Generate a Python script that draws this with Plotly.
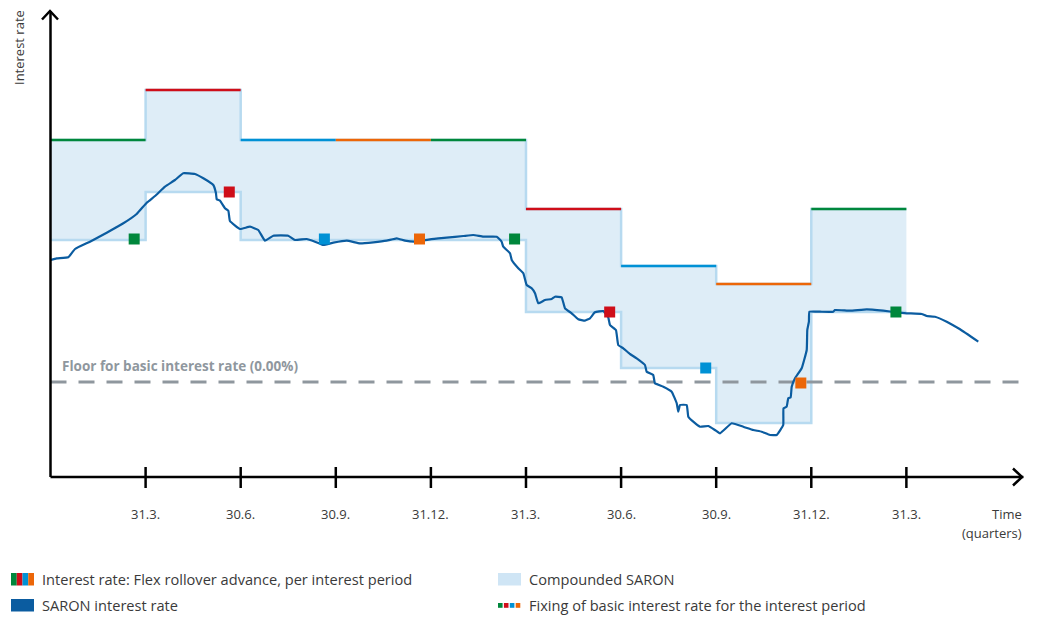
import plotly.graph_objects as go

# ---------------- data ----------------
quarter_ticks = [1, 2, 3, 4, 5, 6, 7, 8, 9]
tick_labels = ["31.3.", "30.6.", "30.9.", "31.12.", "31.3.", "30.6.", "30.9.", "31.12.", "31.3."]

period_start = [0, 1, 2, 3, 4, 5, 6, 7, 8]
period_end = [1, 2, 3, 4, 5, 6, 7, 8, 9]
flex_rate = [2.42, 2.92, 2.42, 2.42, 2.42, 1.73, 1.16, 0.98, 1.73]          # Flex rollover advance
compounded_saron = [1.42, 1.90, 1.42, 1.42, 1.42, 0.70, 0.14, -0.41, 0.70]  # lower edge of compounded SARON
period_colors = ["#00873c", "#cf0e19", "#0091d5", "#ec6608",
                 "#00873c", "#cf0e19", "#0091d5", "#ec6608", "#00873c"]

fixing_x = [0.88, 1.88, 2.88, 3.88, 4.88, 5.88, 6.89, 7.89, 8.89]
fixing_y = [1.43, 1.90, 1.43, 1.43, 1.43, 0.70, 0.14, -0.01, 0.70]

floor_rate = 0.0

saron_x = [0.0, 0.065, 0.187, 0.258, 0.415, 0.591, 0.766, 0.906, 1.012, 1.099,
           1.204, 1.309, 1.396, 1.519, 1.607, 1.712, 1.740, 1.748, 1.782, 1.835,
           1.870, 1.887, 1.993, 2.098, 2.185, 2.255, 2.343, 2.500, 2.571, 2.694,
           2.781, 2.869, 2.974, 3.115, 3.254, 3.394, 3.535, 3.640, 3.728, 3.833,
           3.991, 4.166, 4.341, 4.446, 4.551, 4.692, 4.744, 4.761, 4.832, 4.850,
           4.919, 4.972, 5.007, 5.060, 5.095, 5.129, 5.200, 5.270, 5.305, 5.375,
           5.410, 5.480, 5.550, 5.620, 5.673, 5.725, 5.813, 5.865, 5.883, 5.946,
           5.970, 6.023, 6.094, 6.164, 6.251, 6.269, 6.338, 6.356, 6.444, 6.532,
           6.585, 6.601, 6.619, 6.690, 6.707, 6.759, 6.830, 6.917, 6.987, 7.040,
           7.163, 7.285, 7.390, 7.478, 7.566, 7.636, 7.705, 7.708, 7.741, 7.758,
           7.783, 7.794, 7.829, 7.899, 7.952, 7.958, 7.975, 7.980, 8.091, 8.231,
           8.249, 8.407, 8.583, 8.757, 8.898, 9.003, 9.161, 9.213, 9.301, 9.424,
           9.564, 9.756]
saron_y = [1.220, 1.237, 1.247, 1.330, 1.403, 1.493, 1.587, 1.680, 1.793, 1.860,
           1.953, 2.020, 2.087, 2.080, 2.037, 1.970, 1.887, 1.827, 1.813, 1.737,
           1.713, 1.610, 1.530, 1.553, 1.520, 1.413, 1.463, 1.463, 1.420, 1.430,
           1.403, 1.370, 1.393, 1.413, 1.387, 1.397, 1.413, 1.437, 1.413, 1.403,
           1.427, 1.443, 1.460, 1.470, 1.453, 1.453, 1.403, 1.353, 1.287, 1.220,
           1.137, 1.087, 0.970, 0.937, 0.887, 0.787, 0.820, 0.830, 0.853, 0.847,
           0.737, 0.687, 0.627, 0.613, 0.637, 0.697, 0.710, 0.647, 0.570, 0.520,
           0.370, 0.337, 0.280, 0.237, 0.170, 0.103, 0.070, -0.013, -0.047, -0.097,
           -0.213, -0.297, -0.230, -0.230, -0.347, -0.397, -0.447, -0.440, -0.480, -0.513,
           -0.413, -0.447, -0.480, -0.497, -0.530, -0.530, -0.430, -0.263, -0.247, -0.163,
           -0.153, -0.047, 0.037, 0.137, 0.320, 0.520, 0.603, 0.703, 0.703, 0.703,
           0.720, 0.713, 0.727, 0.713, 0.697, 0.687, 0.680, 0.660, 0.653, 0.603,
           0.527, 0.403]

# ---------------- styling ----------------
W, H = 1038, 617
FONT = "Open Sans"
TEXT = "#3a3a3a"
FILL = "#deedf7"
OUTLINE = "#b7daf0"
SARON = "#0b5ca0"
FLOOR = "#8f979e"
X_RANGE = [-0.531, 10.384]
Y_RANGE = [-2.35, 3.82]
X_AXIS_Y = -0.95      # y position (data) of the time axis
Y_AXIS_TOP = 3.71
X_AXIS_END = 10.23


def px(x):
    return x / W


def py(y):
    return 1 - y / H


fig = go.Figure()

# compounded SARON band
band_x, band_top, band_bot_x, band_bot = [], [], [], []
for s, e, t, b in zip(period_start, period_end, flex_rate, compounded_saron):
    band_x += [s, e]
    band_top += [t, t]
    band_bot_x += [s, e]
    band_bot += [b, b]
fig.add_trace(go.Scatter(x=band_x + band_bot_x[::-1], y=band_top + band_bot[::-1],
                         fill="toself", fillcolor=FILL, mode="lines",
                         line=dict(width=0), hoverinfo="skip", showlegend=False))
# outline (steps)
fig.add_trace(go.Scatter(x=band_x, y=band_top, mode="lines",
                         line=dict(color=OUTLINE, width=2.5), hoverinfo="skip", showlegend=False))
fig.add_trace(go.Scatter(x=band_bot_x, y=band_bot, mode="lines",
                         line=dict(color=OUTLINE, width=2.5), hoverinfo="skip", showlegend=False))

# floor line
fig.add_trace(go.Scatter(x=[0, X_AXIS_END - 0.03], y=[floor_rate, floor_rate], mode="lines",
                         line=dict(color=FLOOR, width=3, dash="16px,12px"),
                         hoverinfo="skip", showlegend=False))

# flex rollover rate per period
for s, e, t, c in zip(period_start, period_end, flex_rate, period_colors):
    fig.add_trace(go.Scatter(x=[s, e], y=[t, t], mode="lines",
                             line=dict(color=c, width=2.5), hoverinfo="skip", showlegend=False))

# SARON line
fig.add_trace(go.Scatter(x=saron_x, y=saron_y, mode="lines",
                         line=dict(color=SARON, width=2.2, shape="spline", smoothing=0.3),
                         hoverinfo="skip", showlegend=False))

# fixings
fig.add_trace(go.Scatter(x=fixing_x, y=fixing_y, mode="markers",
                         marker=dict(symbol="square", size=11, color=period_colors,
                                     line=dict(width=0)),
                         hoverinfo="skip", showlegend=False))

shapes = []
# axes
shapes.append(dict(type="line", xref="x", yref="y", x0=0, x1=0, y0=X_AXIS_Y, y1=Y_AXIS_TOP,
                   line=dict(color="black", width=2.5)))
shapes.append(dict(type="line", xref="x", yref="y", x0=0, x1=X_AXIS_END, y0=X_AXIS_Y, y1=X_AXIS_Y,
                   line=dict(color="black", width=2.5)))
# arrow heads
shapes.append(dict(type="path", xref="paper", yref="paper",
                   path=f"M {px(42)} {py(19.5)} L {px(50)} {py(11)} L {px(58)} {py(19.5)}",
                   line=dict(color="black", width=2.5)))
shapes.append(dict(type="path", xref="paper", yref="paper",
                   path=f"M {px(1013)} {py(468.5)} L {px(1022)} {py(477)} L {px(1013)} {py(485.5)}",
                   line=dict(color="black", width=2.5)))
# ticks
for q in quarter_ticks:
    shapes.append(dict(type="line", xref="x", yref="paper", x0=q, x1=q, y0=py(467), y1=py(488),
                       line=dict(color="black", width=2.5)))

TICKFONT = dict(family=FONT, size=13, color=TEXT)
annotations = []
for q, lab in zip(quarter_ticks, tick_labels):
    annotations.append(dict(x=q, y=py(514), xref="x", yref="paper", text=lab, showarrow=False,
                            font=TICKFONT, xanchor="center", yanchor="middle"))
annotations.append(dict(x=px(1024), y=py(514), xref="paper", yref="paper", text="Time",
                        showarrow=False, font=TICKFONT, xanchor="right", yanchor="middle"))
annotations.append(dict(x=px(1024), y=py(533), xref="paper", yref="paper", text="(quarters)",
                        showarrow=False, font=TICKFONT, xanchor="right", yanchor="middle"))
annotations.append(dict(x=px(19), y=py(48), xref="paper", yref="paper", text="Interest rate",
                        textangle=-90, showarrow=False, font=TICKFONT,
                        xanchor="center", yanchor="middle"))
annotations.append(dict(x=0.1, y=floor_rate, xref="x", yref="y",
                        text="<b>Floor for basic interest rate (0.00%)</b>",
                        showarrow=False, font=dict(family=FONT, size=13.5, color=FLOOR),
                        xanchor="left", yanchor="bottom", yshift=5))

# legend
leg_colors = ["#00873c", "#cf0e19", "#0091d5", "#ec6608"]
for i, c in enumerate(leg_colors):
    shapes.append(dict(type="rect", xref="paper", yref="paper",
                       x0=px(11 + i * 5.75), x1=px(11 + (i + 1) * 5.75), y0=py(585.5), y1=py(573),
                       fillcolor=c, line=dict(width=0)))
shapes.append(dict(type="rect", xref="paper", yref="paper", x0=px(11), x1=px(34),
                   y0=py(611.5), y1=py(599), fillcolor=SARON, line=dict(width=0)))
shapes.append(dict(type="rect", xref="paper", yref="paper", x0=px(498), x1=px(521),
                   y0=py(585.5), y1=py(573), fillcolor="#cfe5f5", line=dict(width=0)))
for i, c in enumerate(leg_colors):
    shapes.append(dict(type="rect", xref="paper", yref="paper",
                       x0=px(498 + i * 5.9), x1=px(498 + i * 5.9 + 4.6), y0=py(607.8), y1=py(603),
                       fillcolor=c, line=dict(width=0)))

leg_texts = [(40, 579, "Interest rate: Flex rollover advance, per interest period"),
             (40, 605, "SARON interest rate"),
             (527, 579, "Compounded SARON"),
             (527, 605, "Fixing of basic interest rate for the interest period")]
for x, y, t in leg_texts:
    annotations.append(dict(x=px(x), y=py(y), xref="paper", yref="paper", text=t, showarrow=False,
                            font=dict(family=FONT, size=14.6, color=TEXT),
                            xanchor="left", yanchor="middle"))

fig.update_layout(
    width=W, height=H,
    margin=dict(l=0, r=0, t=0, b=0),
    paper_bgcolor="white", plot_bgcolor="white",
    xaxis=dict(range=X_RANGE, visible=False, fixedrange=True),
    yaxis=dict(range=Y_RANGE, visible=False, fixedrange=True),
    shapes=shapes, annotations=annotations,
    showlegend=False,
)

fig.write_html("out.html", config={"displayModeBar": False},
               post_script="document.body.style.margin='0px';document.body.style.overflow='hidden';")
